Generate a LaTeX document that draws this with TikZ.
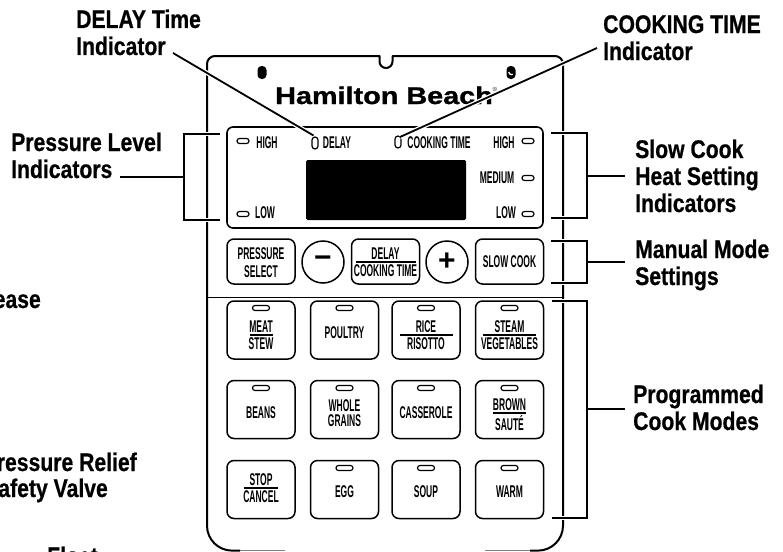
\documentclass[tikz,border=0pt]{standalone}
\usepackage{fontspec}
\usepackage{tikz}
\usetikzlibrary{positioning}
\newfontfamily\calloutfont[FakeStretch=0.83,FakeBold=0.6,UprightFont=* Bold]{Liberation Sans}
\newfontfamily\keyfont[FakeStretch=0.5,UprightFont=* Bold]{Liberation Sans}
\newfontfamily\logofont[FakeStretch=1.2,FakeBold=1.2,UprightFont=* Bold]{Liberation Sans}
\newfontfamily\signfont[UprightFont=* Bold]{Liberation Sans}
\newcommand{\splitlabel}[3]{\vbox{\hbox to #1pt{\hss #2\hss}\kern 2.2pt\hrule height 1.2pt\kern 2.4pt\hbox to #1pt{\hss\vphantom{X}\smash{#3}\hss}}}
\begin{document}
\begin{tikzpicture}[
    x=1pt, y=-1pt,
    callout/.style={font=\calloutfont\fontsize{25.5}{27}\selectfont, inner sep=0pt, align=left, anchor=base west},
    keytext/.style={font=\keyfont\fontsize{17}{14.5}\selectfont, inner sep=0pt, align=center},
    panel/.style={draw, line width=2pt, line join=round},
    keybox/.style={draw, line width=1.5pt, rounded corners=7pt, minimum width=68pt, minimum height=45pt, inner sep=0pt},
    progkey/.style={keybox, minimum height=58pt},
    led/.style={draw, line width=1.2pt, rounded corners=2.5pt, minimum width=12pt, minimum height=5pt, inner sep=0pt},
    keyled/.style={led, minimum width=17pt},
    upled/.style={led, rounded corners=3pt, minimum width=6pt, minimum height=12pt},
    roundkey/.style={draw, circle, line width=1.5pt, minimum size=42pt, inner sep=0pt, font=\signfont\fontsize{30}{30}\selectfont},
    hole/.style={fill, rounded corners=4pt, minimum width=9pt, minimum height=13pt, inner sep=0pt},
    leader/.style={line width=1.8pt, preaction={draw=white, line width=4.5pt}},
    bracket/.style={line width=1.9pt, line join=miter, preaction={draw=white, line width=4.5pt}}
]
    \clip[use as bounding box] (0,0) rectangle (783,551);

    % Panel outline
    \draw[panel] (240,550.6) -- (232,550.6) arc[start angle=90, end angle=180, radius=25]
        -- (207,64) arc[start angle=180, end angle=270, radius=8]
        -- (379.5,56) -- (379.5,61.5) arc[start angle=180, end angle=0, radius=6.5] -- (392.5,56)
        -- (555,56) arc[start angle=270, end angle=360, radius=8]
        -- (563,525.6) arc[start angle=0, end angle=90, radius=25] -- (530,550.6);
    \draw[line width=1.2pt, gray] (240,550.8) -- (285,550.8);
    \draw[line width=1.2pt, gray] (485,550.8) -- (530,550.8);
    \draw[line width=0.9pt] (207,297) -- (563,297);

    % Logo and holes
    \node[hole] (lefthole) at (262,72.5) {};
    \node[hole] (righthole) at (511,72.5) {};
    \draw[white, line width=1.3pt] (508.8,72) arc[start angle=180, end angle=60, radius=2.6];
    \node[font=\logofont\fontsize{24}{24}\selectfont, inner sep=0pt, anchor=base west] (logo) at (275,104) {Hamilton Beach};
    \node[font=\fontsize{6}{6}\selectfont, inner sep=0pt] (logomark) at (495,89) {®};

    % Display area
    \node[draw, line width=1.6pt, rounded corners=6pt, minimum width=316pt, minimum height=101pt, inner sep=0pt] (window) at (385,177.5) {};
    \node[fill, rounded corners=1.5pt, minimum width=160pt, minimum height=60pt, inner sep=0pt] (screen) at (386,190) {};
    \node[led] (highledl) at (243,141) {};
    \node[led] (lowledl) at (243,214) {};
    \node[led] (highledr) at (528,141) {};
    \node[led] (medledr) at (528,178) {};
    \node[led] (lowledr) at (528,214) {};
    \node[upled] (delayled) at (315,143) {};
    \node[upled] (cookled) at (398,142) {};
    \node[keytext] (hightextl) at (267,143) {HIGH};
    \node[keytext] (lowtextl) at (265,213) {LOW};
    \node[keytext] (delaytext) at (337,143) {DELAY};
    \node[keytext] (cooktext) at (439,143) {COOKING TIME};
    \node[keytext] (hightextr) at (504,143) {HIGH};
    \node[keytext] (medtextr) at (497,178) {MEDIUM};
    \node[keytext] (lowtextr) at (506,213) {LOW};

    % Manual row
    \node[keybox] (pressurekey) at (261,261.5) {};
    \node[keytext] (pressuretext) at (261,262.5) {PRESSURE\\[3pt]SELECT};
    \node[roundkey] (minuskey) at (323,262) {−};
    \node[keybox] (delaykey) at (385.5,261.5) {};
    \node[keytext] (delaykeytext) at (385.5,262) {\splitlabel{60}{DELAY}{COOKING TIME}};
    \node[roundkey] (pluskey) at (447,262) {+};
    \node[keybox] (slowkey) at (509.5,261.5) {};
    \node[keytext] (slowtext) at (509.5,262) {SLOW COOK};

    % Programmed keys
    \node[progkey] (meatkey) at (261,330) {};
    \node[progkey] (poultrykey) at (344.5,330) {};
    \node[progkey] (ricekey) at (426,330) {};
    \node[progkey] (steamkey) at (509.5,330) {};
    \node[progkey] (beanskey) at (261,409.5) {};
    \node[progkey] (wholekey) at (344.5,409.5) {};
    \node[progkey] (casserolekey) at (426,409.5) {};
    \node[progkey] (brownkey) at (509.5,409.5) {};
    \node[progkey] (stopkey) at (261,489.5) {};
    \node[progkey] (eggkey) at (344.5,489.5) {};
    \node[progkey] (soupkey) at (426,489.5) {};
    \node[progkey] (warmkey) at (509.5,489.5) {};
    \foreach \name/\xpos/\ypos in {meat/261/308, poultry/344.5/308, rice/426/308, steam/509.5/308,
        beans/261/388, whole/344.5/388, casserole/426/388, brown/509.5/388,
        egg/344.5/468, soup/426/468, warm/509.5/468}
        \node[keyled] (\name led) at (\xpos,\ypos) {};
    \node[keytext] (meattext) at (261,335) {\splitlabel{23}{MEAT}{STEW}};
    \node[keytext] (poultrytext) at (344.5,333) {POULTRY};
    \node[keytext] (ricetext) at (426,335) {\splitlabel{53}{RICE}{RISOTTO}};
    \node[keytext] (steamtext) at (509.5,335) {\splitlabel{53}{STEAM}{VEGETABLES}};
    \node[keytext] (beanstext) at (261,413) {BEANS};
    \node[keytext] (wholetext) at (344.5,413) {WHOLE\\GRAINS};
    \node[keytext] (casseroletext) at (426,413) {CASSEROLE};
    \node[keytext] (browntext) at (509.5,413) {\splitlabel{33}{BROWN}{\raisebox{-3pt}{SAUTÉ}}};
    \node[keytext] (stoptext) at (261,488) {\splitlabel{34}{STOP}{CANCEL}};
    \node[keytext] (eggtext) at (344.5,492) {EGG};
    \node[keytext] (souptext) at (426,492) {SOUP};
    \node[keytext] (warmtext) at (509.5,492) {WARM};

    % Callout labels
    \node[callout] (delaylabel) at (76,55) {DELAY Time\\Indicator};
    \node[callout] (cooklabel) at (603,60) {COOKING TIME\\Indicator};
    \node[callout] (pressurelabel) at (11,178) {Pressure Level\\Indicators};
    \node[callout] (slowlabel) at (635,212) {Slow Cook\\Heat Setting\\Indicators};
    \node[callout] (manuallabel) at (635,285) {Manual Mode\\Settings};
    \node[callout] (proglabel) at (633,430) {Programmed\\Cook Modes};
    \node[callout, anchor=base east] (releaselabel) at (41,308) {ease};
    \node[callout, anchor=base east, align=right] (relieflabel) at (137,471) {ressure Relief};
    \node[callout, anchor=base east] (valvelabel) at (108,497) {afety Valve};
    \node[callout] (floatlabel) at (47,565) {Float};

    % Leaders
    \coordinate (delaytip) at (173,53);
    \coordinate (cooktip) at (597,48);
    \coordinate (delayend) at (313.5,135.5);
    \coordinate (cookend) at (400,137);
    \draw[leader] (delaytip) -- (delayend);
    \draw[leader] (cooktip) -- (cookend);

    % Brackets
    \coordinate (pressuretop) at (220,134);
    \coordinate (pressurebot) at (220,220);
    \coordinate (pressuremid) at (184,177);
    \coordinate (pressuretip) at (120,177);
    \draw[bracket] (pressuretop) -| (pressuremid) |- (pressurebot);
    \draw[line width=1.9pt] (pressuretip) -- (pressuremid);

    \coordinate (slowtop) at (551,133);
    \coordinate (slowbot) at (551,218);
    \coordinate (slowmid) at (587,176);
    \coordinate (slowtip) at (625,176);
    \draw[bracket] (slowtop) -| (slowmid) |- (slowbot);
    \draw[line width=1.9pt] (slowmid) -- (slowtip);

    \coordinate (manualtop) at (551,241);
    \coordinate (manualbot) at (551,283);
    \coordinate (manualmid) at (587,262);
    \coordinate (manualtip) at (625,262);
    \draw[bracket] (manualtop) -| (manualmid) |- (manualbot);
    \draw[line width=1.9pt] (manualmid) -- (manualtip);

    \coordinate (progtop) at (552,301);
    \coordinate (progbot) at (552,518);
    \coordinate (progmid) at (587,409);
    \coordinate (progtip) at (625,409);
    \draw[bracket] (progtop) -| (progmid) |- (progbot);
    \draw[line width=1.9pt] (progmid) -- (progtip);
\end{tikzpicture}
\end{document}
